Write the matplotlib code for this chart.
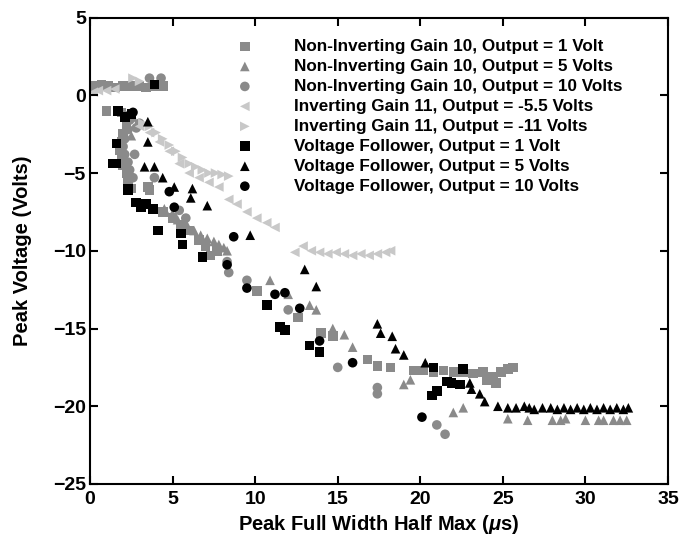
import matplotlib
matplotlib.use("Agg")
import matplotlib.pyplot as plt

plt.rcParams['font.family'] = ['Liberation Sans', 'DejaVu Sans']
plt.rcParams['font.weight'] = 'bold'
plt.rcParams['mathtext.fontset'] = 'custom'
plt.rcParams['mathtext.it'] = 'Liberation Sans:italic:bold'

labels = [
    "Non-Inverting Gain 10, Output = 1 Volt",
    "Non-Inverting Gain 10, Output = 5 Volts",
    "Non-Inverting Gain 10, Output = 10 Volts",
    "Inverting Gain 11, Output = -5.5 Volts",
    "Inverting Gain 11, Output = -11 Volts",
    "Voltage Follower, Output = 1 Volt",
    "Voltage Follower, Output = 5 Volts",
    "Voltage Follower, Output = 10 Volts",
]

# Non-inverting gain 10, 1 V (gray squares)
ni1_x = [0.3, 0.7, 1.1, 1.5, 2.0, 2.5, 3.0, 3.4, 3.9, 4.4,
         1.0, 1.9, 2.2, 2.5, 2.2, 2.0, 1.9, 1.8, 1.9, 2.0, 2.2, 2.3, 2.5,
         3.5, 3.6, 4.4, 5.0, 5.5, 6.0, 6.6, 7.0, 7.3, 7.7,
         10.1, 12.6, 14.0, 14.7, 16.8, 17.4, 18.2,
         19.6, 20.2, 20.8, 21.4, 22.0, 22.6, 23.2, 23.8, 24.4, 24.9, 25.3, 25.6, 24.0, 24.6]
ni1_y = [0.6, 0.7, 0.6, 0.5, 0.6, 0.6, 0.6, 0.5, 0.6, 0.6,
         -1.0, -1.1, -1.3, -1.2, -2.0, -2.5, -3.0, -3.5, -4.0, -4.5, -5.0, -5.5, -6.0,
         -5.9, -6.1, -7.5, -7.9, -8.3, -8.7, -9.3, -9.7, -10.3, -10.0,
         -12.6, -14.3, -15.3, -15.5, -17.0, -17.4, -17.5,
         -17.7, -17.7, -17.8, -17.7, -17.8, -17.8, -17.9, -17.8, -18.1, -17.8, -17.6, -17.5, -18.3, -18.5]

# Non-inverting gain 10, 5 V (gray triangles)
ni5_x = [2.6, 2.5, 4.5, 5.0, 5.3, 5.8, 6.3, 6.7, 7.1, 7.5, 7.8, 8.1, 8.3,
         10.9, 12.0, 13.3, 13.7, 14.7, 15.4, 15.9,
         19.0, 19.4, 22.0, 22.6, 25.3, 26.5, 28.0, 28.5, 28.8, 30.0, 30.8, 31.1, 31.7, 32.1, 32.5]
ni5_y = [-1.4, -2.6, -7.3, -7.6, -8.0, -8.2, -8.7, -9.0, -9.2, -9.4, -9.6, -9.8, -10.0,
         -11.9, -12.8, -13.5, -13.8, -15.0, -15.4, -16.2,
         -18.6, -18.3, -20.4, -20.1, -20.8, -20.9, -20.9, -20.9, -20.8, -20.9, -20.9, -20.9, -20.9, -20.9, -20.9]

# Non-inverting gain 10, 10 V (gray circles)
ni10_x = [3.6, 4.3, 2.4, 2.3, 2.1, 2.0, 2.1, 2.3, 2.4, 2.6, 2.8, 3.0, 2.7, 3.9, 5.4, 5.8,
          8.3, 8.4, 9.5, 12.0, 15.0, 17.4, 17.4, 21.0, 21.5]
ni10_y = [1.1, 1.1, -1.6, -2.2, -2.8, -3.3, -3.8, -4.3, -4.8, -5.3, -2.1, -1.8, -3.8, -5.3, -7.4, -7.9,
          -10.7, -11.4, -11.9, -13.8, -17.5, -18.8, -19.2, -21.2, -21.8]

# Inverting gain 11, -5.5 V (light gray left triangles)
inv55_x = [0.2, 0.5, 1.0, 1.5, 3.0, 3.6, 4.2, 4.8, 5.4, 6.0, 6.6, 7.2, 7.8, 8.4, 8.9, 9.5, 10.1, 10.7, 11.2,
           12.4, 12.9, 13.4, 13.9, 14.4, 14.9, 15.4, 15.9, 16.4, 16.9, 17.4, 17.9, 18.2]
inv55_y = [0.2, 0.3, 0.3, 0.4, -2.0, -2.4, -3.0, -3.6, -4.4, -5.0, -5.3, -5.6, -5.9, -6.7, -7.0, -7.5, -7.9, -8.2, -8.5,
           -10.1, -9.7, -10.0, -10.1, -10.2, -10.1, -10.2, -10.3, -10.2, -10.3, -10.2, -10.1, -10.0]

# Inverting gain 11, -11 V (light gray right triangles)
inv11_x = [2.6, 3.0, 3.2, 3.6, 4.0, 4.4, 4.8, 5.2, 5.6, 6.0, 6.4, 6.8, 7.2, 7.6, 8.0, 8.4]
inv11_y = [1.1, 0.9, -1.8, -2.0, -2.4, -2.8, -3.2, -3.6, -4.0, -4.4, -4.6, -4.8, -5.0, -5.0, -5.1, -5.2]

# Voltage follower, 1 V (black squares)
vf1_x = [3.9, 1.7, 2.1, 2.5, 1.6, 1.4, 1.6, 2.3, 2.3, 2.8, 3.1, 3.4, 3.8, 4.1, 5.5, 5.6, 6.8,
         10.7, 11.5, 11.8, 13.3, 13.9, 20.7, 21.0, 21.6, 21.9, 22.4, 20.8, 22.6]
vf1_y = [0.7, -1.0, -1.4, -1.2, -3.1, -4.4, -4.4, -6.0, -6.1, -6.9, -7.2, -7.0, -7.3, -8.7, -8.9, -9.6, -10.4,
         -13.5, -14.9, -15.1, -16.1, -16.5, -19.3, -19.0, -18.4, -18.5, -18.6, -17.5, -17.6]

# Voltage follower, 5 V (black triangles)
vf5_x = [3.5, 3.5, 3.3, 3.9, 4.4, 5.1, 6.2, 6.1, 7.1, 9.7, 13.0, 13.7,
         17.4, 17.6, 18.3, 18.5, 19.0, 20.3, 23.0, 23.1, 23.6, 23.9, 24.7,
         25.3, 25.8, 26.3, 26.6, 26.9, 27.4, 27.9, 28.3, 28.7, 29.1, 29.5, 29.9, 30.3,
         30.7, 31.1, 31.5, 31.9, 32.3, 32.6]
vf5_y = [-1.7, -3.0, -4.6, -4.6, -5.3, -5.9, -6.0, -6.6, -7.1, -9.0, -11.2, -12.3,
         -14.7, -15.3, -15.5, -16.3, -16.7, -17.2, -18.5, -18.9, -19.2, -19.7, -20.0,
         -20.1, -20.1, -20.0, -20.1, -20.2, -20.1, -20.1, -20.2, -20.1, -20.2, -20.1, -20.2, -20.1,
         -20.2, -20.1, -20.2, -20.1, -20.2, -20.1]

# Voltage follower, 10 V (black circles)
vf10_x = [2.6, 4.8, 5.1, 8.7, 8.3, 9.5, 11.2, 11.8, 12.7, 13.9, 15.9, 20.1]
vf10_y = [-1.1, -6.2, -7.2, -9.1, -10.9, -12.4, -12.8, -12.7, -13.7, -15.8, -17.2, -20.7]

gray = "#8a8a8a"
light = "#c8c8c8"
black = "#000000"

series = [
    (ni1_x, ni1_y, "s", gray),
    (ni5_x, ni5_y, "^", gray),
    (ni10_x, ni10_y, "o", gray),
    (inv55_x, inv55_y, "<", light),
    (inv11_x, inv11_y, ">", light),
    (vf1_x, vf1_y, "s", black),
    (vf5_x, vf5_y, "^", black),
    (vf10_x, vf10_y, "o", black),
]

fig = plt.figure(figsize=(6.98, 5.51), dpi=100)
ax = fig.add_axes([0.129, 0.1216, 0.828, 0.8466])

for (xs, ys, m, c), lab in zip(series, labels):
    ax.scatter(xs, ys, marker=m, s=48, color=c, edgecolors='none', label=lab)

ax.set_xlim(0, 35)
ax.set_ylim(-25, 5)
ax.set_xticks(range(0, 36, 5))
ax.set_yticks(range(-25, 6, 5))
ax.tick_params(direction='in', length=6, width=1.5, top=True, right=True,
               labelsize=14)
ax.tick_params(axis='x', pad=5)
ax.tick_params(axis='y', pad=3)
for lab in ax.get_xticklabels() + ax.get_yticklabels():
    lab.set_fontweight('bold')
for sp in ax.spines.values():
    sp.set_linewidth(1.5)

ax.set_xlabel("Peak Full Width Half Max ($\\mathit{\\mu}$s)", fontsize=14.5, fontweight='bold')
ax.set_ylabel("Peak Voltage (Volts)", fontsize=14.5, fontweight='bold')
ax.xaxis.set_label_coords(0.5, -0.062)
ax.yaxis.set_label_coords(-0.100, 0.5)

leg = ax.legend(loc='upper left', bbox_to_anchor=(238/698, 1 - 39/551),
                bbox_transform=fig.transFigure, frameon=False,
                fontsize=12.3, handlelength=0.8, handletextpad=2.5,
                labelspacing=0.29, borderpad=0, borderaxespad=0)
for t in leg.get_texts():
    t.set_fontweight('bold')

fig.savefig("out.png", dpi=100)
